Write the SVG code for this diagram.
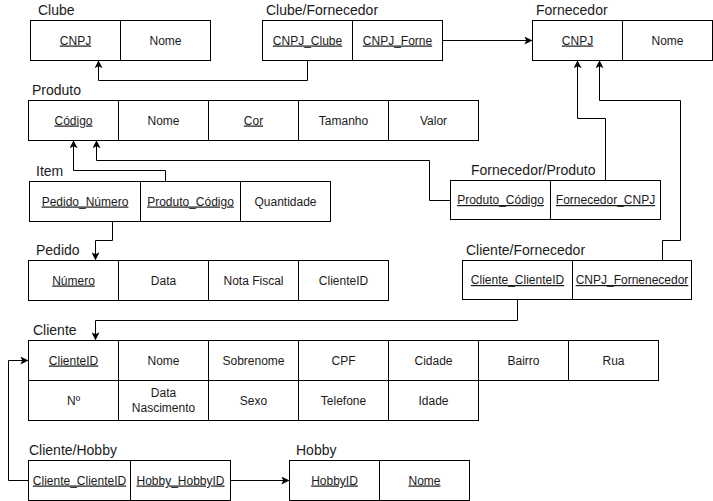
<svg xmlns="http://www.w3.org/2000/svg" width="713" height="501" viewBox="0 0 713 501">
  <defs>
    <marker id="arr" viewBox="0 0 10 10" refX="9" refY="5" markerWidth="8" markerHeight="8" markerUnits="userSpaceOnUse" orient="auto">
      <path d="M0,0 L10,5 L0,10 L2.5,5 Z" fill="#000"/>
    </marker>
    <style>
      .cell { fill: #fff; stroke: #000; stroke-width: 1; }
      .t { font-family: "Liberation Sans", Arial, sans-serif; font-size: 12px; fill: #1a1a1a; text-anchor: middle; }
      .u { text-decoration: underline; }
      .lbl { font-family: "Liberation Sans", Arial, sans-serif; font-size: 14px; fill: #1a1a1a; }
      .conn { fill: none; stroke: #000; stroke-width: 1; marker-end: url(#arr); }
    </style>
  </defs>
  <rect width="713" height="501" fill="#fff"/>

  <!-- Clube -->
  <g id="clube">
    <text class="lbl" x="38" y="15">Clube</text>
    <rect class="cell" x="30.5" y="20.5" width="90" height="40"/>
    <rect class="cell" x="120.5" y="20.5" width="90" height="40"/>
    <text class="t u" x="75.5" y="44.5">CNPJ</text>
    <text class="t" x="165.5" y="44.5">Nome</text>
  </g>

  <!-- Clube/Fornecedor -->
  <g id="clube-fornecedor">
    <text class="lbl" x="266" y="15">Clube/Fornecedor</text>
    <rect class="cell" x="262.5" y="20.5" width="90" height="40"/>
    <rect class="cell" x="352.5" y="20.5" width="90" height="40"/>
    <text class="t u" x="307.5" y="44.5">CNPJ_Clube</text>
    <text class="t u" x="397.5" y="44.5">CNPJ_Forne</text>
  </g>

  <!-- Fornecedor -->
  <g id="fornecedor">
    <text class="lbl" x="536" y="15">Fornecedor</text>
    <rect class="cell" x="532.5" y="20.5" width="90" height="40"/>
    <rect class="cell" x="622.5" y="20.5" width="90" height="40"/>
    <text class="t u" x="577.5" y="44.5">CNPJ</text>
    <text class="t" x="667.5" y="44.5">Nome</text>
  </g>

  <!-- Produto -->
  <g id="produto">
    <text class="lbl" x="32" y="95">Produto</text>
    <rect class="cell" x="28.5" y="100.5" width="90" height="40"/>
    <rect class="cell" x="118.5" y="100.5" width="90" height="40"/>
    <rect class="cell" x="208.5" y="100.5" width="90" height="40"/>
    <rect class="cell" x="298.5" y="100.5" width="90" height="40"/>
    <rect class="cell" x="388.5" y="100.5" width="90" height="40"/>
    <text class="t u" x="73.5" y="124.5">Código</text>
    <text class="t" x="163.5" y="124.5">Nome</text>
    <text class="t u" x="253.5" y="124.5">Cor</text>
    <text class="t" x="343.5" y="124.5">Tamanho</text>
    <text class="t" x="433.5" y="124.5">Valor</text>
  </g>

  <!-- Item -->
  <g id="item">
    <text class="lbl" x="36" y="176">Item</text>
    <rect class="cell" x="29.5" y="181.5" width="111" height="40"/>
    <rect class="cell" x="140.5" y="181.5" width="100" height="40"/>
    <rect class="cell" x="240.5" y="181.5" width="90" height="40"/>
    <text class="t u" x="85" y="205.5">Pedido_Número</text>
    <text class="t u" x="190.5" y="205.5">Produto_Código</text>
    <text class="t" x="285.5" y="205.5">Quantidade</text>
  </g>

  <!-- Fornecedor/Produto -->
  <g id="fornecedor-produto">
    <text class="lbl" x="471" y="175">Fornecedor/Produto</text>
    <rect class="cell" x="450.5" y="180.5" width="100" height="39"/>
    <rect class="cell" x="550.5" y="180.5" width="110" height="39"/>
    <text class="t u" x="500.5" y="204">Produto_Código</text>
    <text class="t u" x="605.5" y="204">Fornecedor_CNPJ</text>
  </g>

  <!-- Pedido -->
  <g id="pedido">
    <text class="lbl" x="36" y="255">Pedido</text>
    <rect class="cell" x="28.5" y="260.5" width="90" height="40"/>
    <rect class="cell" x="118.5" y="260.5" width="90" height="40"/>
    <rect class="cell" x="208.5" y="260.5" width="90" height="40"/>
    <rect class="cell" x="298.5" y="260.5" width="90" height="40"/>
    <text class="t u" x="73.5" y="284.5">Número</text>
    <text class="t" x="163.5" y="284.5">Data</text>
    <text class="t" x="253.5" y="284.5">Nota Fiscal</text>
    <text class="t" x="343.5" y="284.5">ClienteID</text>
  </g>

  <!-- Cliente/Fornecedor -->
  <g id="cliente-fornecedor">
    <text class="lbl" x="466" y="255">Cliente/Fornecedor</text>
    <rect class="cell" x="462.5" y="260.5" width="110" height="39"/>
    <rect class="cell" x="572.5" y="260.5" width="119" height="39"/>
    <text class="t u" x="517.5" y="284">Cliente_ClienteID</text>
    <text class="t u" x="632" y="284">CNPJ_Fornenecedor</text>
  </g>

  <!-- Cliente -->
  <g id="cliente">
    <text class="lbl" x="33" y="335">Cliente</text>
    <rect class="cell" x="28.5" y="340.5" width="90" height="40"/>
    <rect class="cell" x="118.5" y="340.5" width="90" height="40"/>
    <rect class="cell" x="208.5" y="340.5" width="90" height="40"/>
    <rect class="cell" x="298.5" y="340.5" width="90" height="40"/>
    <rect class="cell" x="388.5" y="340.5" width="90" height="40"/>
    <rect class="cell" x="478.5" y="340.5" width="90" height="40"/>
    <rect class="cell" x="568.5" y="340.5" width="90" height="40"/>
    <rect class="cell" x="28.5" y="380.5" width="90" height="40"/>
    <rect class="cell" x="118.5" y="380.5" width="90" height="40"/>
    <rect class="cell" x="208.5" y="380.5" width="90" height="40"/>
    <rect class="cell" x="298.5" y="380.5" width="90" height="40"/>
    <rect class="cell" x="388.5" y="380.5" width="90" height="40"/>
    <text class="t u" x="73.5" y="364.5">ClienteID</text>
    <text class="t" x="163.5" y="364.5">Nome</text>
    <text class="t" x="253.5" y="364.5">Sobrenome</text>
    <text class="t" x="343.5" y="364.5">CPF</text>
    <text class="t" x="433.5" y="364.5">Cidade</text>
    <text class="t" x="523.5" y="364.5">Bairro</text>
    <text class="t" x="613.5" y="364.5">Rua</text>
    <text class="t" x="73.5" y="404.5">Nº</text>
    <text class="t" x="163.5" y="397">Data</text>
    <text class="t" x="163.5" y="412">Nascimento</text>
    <text class="t" x="253.5" y="404.5">Sexo</text>
    <text class="t" x="343.5" y="404.5">Telefone</text>
    <text class="t" x="433.5" y="404.5">Idade</text>
  </g>

  <!-- Cliente/Hobby -->
  <g id="cliente-hobby">
    <text class="lbl" x="29" y="455">Cliente/Hobby</text>
    <rect class="cell" x="28.5" y="460.5" width="102" height="40"/>
    <rect class="cell" x="130.5" y="460.5" width="100" height="40"/>
    <text class="t u" x="79.5" y="484.5">Cliente_ClienteID</text>
    <text class="t u" x="180.5" y="484.5">Hobby_HobbyID</text>
  </g>

  <!-- Hobby -->
  <g id="hobby">
    <text class="lbl" x="296" y="455">Hobby</text>
    <rect class="cell" x="289.5" y="460.5" width="90" height="40"/>
    <rect class="cell" x="379.5" y="460.5" width="90" height="40"/>
    <text class="t u" x="334.5" y="484.5">HobbyID</text>
    <text class="t u" x="424.5" y="484.5">Nome</text>
  </g>

  <!-- Connectors -->
  <g id="connectors">
    <path class="conn" d="M442.5,40.5 H531.5"/>
    <path class="conn" d="M307.5,60.5 V80.5 H98.5 V61"/>
    <path class="conn" d="M165.5,181.5 V170.5 H73.5 V141"/>
    <path class="conn" d="M450.5,200.5 H429.5 V160.5 H96.5 V141"/>
    <path class="conn" d="M605.5,180.5 V118.5 H577.5 V61"/>
    <path class="conn" d="M662.5,260.5 V240.5 H680.5 V100.5 H599.5 V61"/>
    <path class="conn" d="M112.5,221.5 V240.5 H95.5 V259.5"/>
    <path class="conn" d="M517.5,299.5 V320.5 H95.5 V339.5"/>
    <path class="conn" d="M28.5,480.5 H8.5 V360.5 H27.5"/>
    <path class="conn" d="M230.5,480.5 H288.5"/>
  </g>
</svg>
